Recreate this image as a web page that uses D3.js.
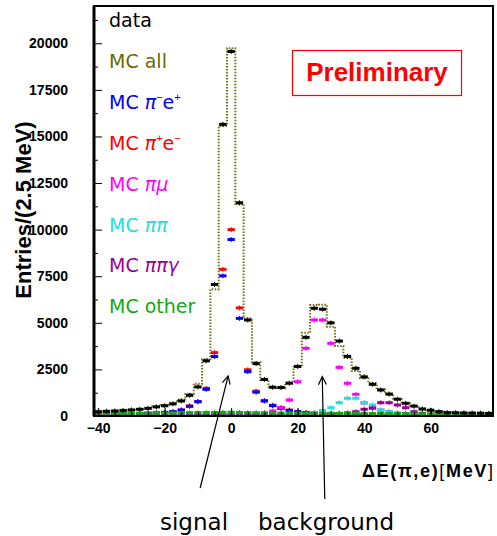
<!DOCTYPE html>
<html>
<head>
<meta charset="utf-8">
<script src="https://cdn.jsdelivr.net/npm/d3@7"></script>
<style>
  body { margin: 0; background: #fff; }
  svg { display: block; }
</style>
</head>
<body>
<div id="wrapper"></div>
<script>
// bin centres, MeV (bins of 2.5 MeV)
const binCenters = [-40, -37.5, -35, -32.5, -30, -27.5, -25, -22.5, -20, -17.5, -15, -12.5,
  -10, -7.5, -5, -2.5, 0, 2.5, 5, 7.5, 10, 12.5, 15, 17.5, 20, 22.5, 25, 27.5, 30, 32.5,
  35, 37.5, 40, 42.5, 45, 47.5, 50, 52.5, 55, 57.5, 60, 62.5, 65, 67.5, 70, 72.5, 75, 77.5];

const dataCounts = [230, 250, 270, 300, 325, 360, 410, 490, 550, 650, 805, 1110,
  1560, 2960, 7060, 15650, 19560, 11440, 5150, 2810, 1960, 1540, 1530, 1760, 2660, 4220, 5780, 5730, 5000, 4020,
  3200, 2560, 2100, 1700, 1395, 1175, 900, 680, 530, 375, 310, 230, 180, 175, 165, 160, 150, 140];

const mcAll = [240, 260, 280, 305, 335, 375, 425, 505, 585, 705, 880, 1180,
  1730, 3050, 6800, 15560, 19730, 11380, 5240, 2880, 1930, 1570, 1490, 1780, 2640, 4470, 5950, 5970, 4790, 3760,
  3130, 2420, 2030, 1770, 1430, 1200, 930, 700, 545, 400, 315, 245, 195, 180, 172, 165, 158, 150];

const mcPiMinusEPlus = [105, 110, 115, 120, 125, 135, 145, 160, 195, 230, 320, 520,
  767, 1430, 3190, 7520, 9470, 5240, 2380, 1280, 805, 553, 413, 300, 230, 185, 150, 130, 110, 95,
  85, 75, 65, 55, 50, 45, 40, 35, 30, 28, 25, 22, 20, 18, 16, 15, 14, 12];

const mcPiPlusEMinus = [104, 109, 114, 119, 124, 134, 144, 159, 194, 229, 319, 540,
  775, 1485, 3400, 7870, 10000, 5800, 2480, 1330, 820, 575, 425, 315, 229, 184, 149, 129, 109, 94,
  84, 74, 64, 54, 49, 44, 39, 34, 29, 27, 24, 21, 19, 17, 15, 14, 13, 11];

const mcPiMu = [15, 15, 18, 18, 20, 20, 22, 25, 28, 30, 35, 40,
  45, 55, 60, 70, 80, 90, 100, 120, 160, 268, 460, 858, 1840, 3630, 5150, 5150, 3900, 2610,
  1755, 1164, 700, 445, 320, 230, 160, 130, 90, 70, 55, 40, 30, 25, 20, 18, 15, 12];

const mcPiPi = [30, 30, 30, 30, 30, 30, 30, 30, 30, 30, 30, 30,
  30, 30, 35, 35, 35, 35, 40, 40, 45, 50, 60, 70, 90, 120, 180, 300, 445, 714,
  950, 950, 714, 590, 322, 230, 150, 100, 70, 50, 40, 30, 25, 20, 18, 15, 12, 10];

const mcPiPiGamma = [20, 20, 20, 20, 20, 20, 20, 20, 20, 20, 20, 20,
  20, 20, 20, 20, 20, 20, 20, 25, 25, 30, 35, 40, 45, 55, 65, 80, 100, 130,
  170, 230, 360, 420, 714, 714, 590, 445, 230, 143, 90, 60, 40, 30, 25, 20, 15, 12];

const mcOther = [150, 148, 155, 150, 152, 150, 158, 160, 162, 165, 170, 178,
  182, 185, 190, 196, 200, 190, 182, 175, 170, 166, 160, 158, 155, 152, 150, 150, 148, 145,
  145, 142, 140, 136, 135, 130, 128, 125, 124, 120, 118, 115, 114, 110, 108, 105, 104, 100];

const xTickValues = [-40, -20, 0, 20, 40, 60];
const xMinorTicks = [-40, -35, -30, -25, -20, -15, -10, -5, 0, 5, 10, 15, 20, 25, 30, 35, 40, 45, 50, 55, 60, 65, 70, 75];
const yTickValues = [0, 2500, 5000, 7500, 10000, 12500, 15000, 17500, 20000];
const yMinorTicks = [1250, 3750, 6250, 8750, 11250, 13750, 16250, 18750, 21250];

const legendItems = [
  {label: "data", color: "#000000"},
  {label: "MC all", color: "#6b6b00"},
  {label: "MC π-e+", color: "#0000ff"},
  {label: "MC π+e-", color: "#ff0000"},
  {label: "MC πμ", color: "#ff00ff"},
  {label: "MC ππ", color: "#22e0e0"},
  {label: "MC ππγ", color: "#990099"},
  {label: "MC other", color: "#11aa11"},
];

const binHalf = 1.25;

let dimensions = {
  width: 497,
  height: 536,
  margin: { top: 6, right: 4, bottom: 120, left: 94 },
};
dimensions.boundedWidth = dimensions.width - dimensions.margin.left - dimensions.margin.right;
dimensions.boundedHeight = dimensions.height - dimensions.margin.top - dimensions.margin.bottom;

const wrapper = d3.select("#wrapper")
  .append("svg")
  .attr("width", dimensions.width)
  .attr("height", dimensions.height);

const xScale = d3.scaleLinear()
  .domain([-41.25, 78.75])
  .range([dimensions.margin.left, dimensions.margin.left + dimensions.boundedWidth]);
const yScale = d3.scaleLinear()
  .domain([0, 22000])
  .range([dimensions.margin.top + dimensions.boundedHeight, dimensions.margin.top]);

const defs = wrapper.append("defs");
defs.append("clipPath").attr("id", "clip")
  .append("rect")
  .attr("x", dimensions.margin.left)
  .attr("y", dimensions.margin.top)
  .attr("width", dimensions.boundedWidth)
  .attr("height", dimensions.boundedHeight);

const plot = wrapper.append("g").attr("clip-path", "url(#clip)");

// MC all: dotted histogram outline
const stepPoints = [];
binCenters.forEach((c, i) => {
  stepPoints.push([c - binHalf, mcAll[i]]);
  stepPoints.push([c + binHalf, mcAll[i]]);
});
const stepLine = d3.line()
  .x(d => xScale(d[0]))
  .y(d => yScale(d[1]));
plot.append("path")
  .attr("d", stepLine(stepPoints))
  .attr("fill", "none")
  .attr("stroke", "#707018")
  .attr("stroke-width", 2)
  .attr("stroke-dasharray", "1.5,1.5");

function drawMarkers(values, color, thick) {
  const g = plot.append("g");
  g.selectAll("line.h").data(values).join("line")
    .attr("class", "h")
    .attr("x1", (d, i) => xScale(binCenters[i] - binHalf) + 0.5)
    .attr("x2", (d, i) => xScale(binCenters[i] + binHalf) - 0.5)
    .attr("y1", d => yScale(d))
    .attr("y2", d => yScale(d))
    .attr("stroke", color)
    .attr("stroke-width", thick);
  g.selectAll("line.v").data(values).join("line")
    .attr("class", "v")
    .attr("x1", (d, i) => xScale(binCenters[i]))
    .attr("x2", (d, i) => xScale(binCenters[i]))
    .attr("y1", d => Math.min(yScale(d) - 2.5, yScale(d + Math.sqrt(d))))
    .attr("y2", d => Math.max(yScale(d) + 2.5, yScale(d - Math.sqrt(d))))
    .attr("stroke", color)
    .attr("stroke-width", 1);
}

drawMarkers(mcPiPlusEMinus, "#ff0000", 3);
drawMarkers(mcPiMinusEPlus, "#0000ff", 3);
drawMarkers(mcPiMu, "#ff00ff", 3);
drawMarkers(mcPiPi, "#22e0e0", 3);
drawMarkers(mcPiPiGamma, "#990099", 3);
drawMarkers(mcOther, "#11aa11", 3);
drawMarkers(dataCounts, "#000000", 3);

// axes (ticks pointing inside)
const fontBold = "'Liberation Sans', Arial, Helvetica, sans-serif";

const yAxis = wrapper.append("g")
  .attr("transform", `translate(${dimensions.margin.left},0)`)
  .call(d3.axisLeft(yScale).tickValues(yTickValues).tickSize(-8).tickPadding(26).tickFormat(d3.format("d")));
wrapper.append("g")
  .attr("transform", `translate(${dimensions.margin.left},0)`)
  .call(d3.axisLeft(yScale).tickValues(yMinorTicks).tickSize(-4).tickFormat(""));

const xBase = yScale(0);
const xAxis = wrapper.append("g")
  .attr("transform", `translate(0,${xBase})`)
  .call(d3.axisBottom(xScale).tickValues(xTickValues).tickSize(-8).tickPadding(7).tickFormat(d3.format("d")));
wrapper.append("g")
  .attr("transform", `translate(0,${xBase})`)
  .call(d3.axisBottom(xScale).tickValues(xMinorTicks).tickSize(-4).tickFormat(""));

wrapper.selectAll(".domain").remove();
wrapper.selectAll(".tick line").attr("stroke", "#000").attr("stroke-width", 1);
wrapper.selectAll(".tick text")
  .attr("font-family", fontBold)
  .attr("font-weight", "bold")
  .attr("font-size", 14)
  .attr("fill", "#000");

// frame
wrapper.append("rect")
  .attr("x", dimensions.margin.left)
  .attr("y", dimensions.margin.top)
  .attr("width", dimensions.boundedWidth)
  .attr("height", dimensions.boundedHeight)
  .attr("fill", "none")
  .attr("stroke", "#000")
  .attr("stroke-width", 2);
wrapper.append("line")
  .attr("x1", dimensions.margin.left).attr("x2", dimensions.margin.left)
  .attr("y1", dimensions.margin.top).attr("y2", xBase)
  .attr("stroke", "#000").attr("stroke-width", 3);

// axis titles
wrapper.append("text")
  .attr("transform", "rotate(-90)")
  .attr("x", -210)
  .attr("y", 31)
  .attr("text-anchor", "middle")
  .attr("font-family", fontBold)
  .attr("font-weight", "bold")
  .attr("font-size", 22)
  .text("Entries/(2.5 MeV)");

const xTitle = wrapper.append("text")
  .attr("x", 362)
  .attr("y", 477)
  .attr("font-family", fontBold)
  .attr("font-size", 18)
  .attr("textLength", 131)
  .attr("lengthAdjust", "spacing");
xTitle.append("tspan").attr("font-weight", "bold").text("ΔE(π,e)");
xTitle.append("tspan").attr("font-weight", "normal").text("[");
xTitle.append("tspan").attr("font-weight", "bold").text("MeV");
xTitle.append("tspan").attr("font-weight", "normal").text("]");

// legend
const legendFont = "'DejaVu Sans', sans-serif";
const legend = wrapper.append("g");
legendItems.forEach((item, i) => {
  const t = legend.append("text")
    .attr("x", 109)
    .attr("y", 27 + i * 40.9)
    .attr("font-family", legendFont)
    .attr("font-size", 19)
    .attr("fill", item.color);
  const m = item.label.match(/^MC (.*)$/);
  if (!m) { t.text(item.label); return; }
  t.append("tspan").text("MC ");
  const rest = m[1];
  if (rest === "π-e+" || rest === "π+e-") {
    t.append("tspan").attr("font-style", "italic").text("π");
    t.append("tspan").attr("font-size", 11).attr("dy", -8).attr("font-family", fontBold).text(rest[1] === "-" ? "−" : "+");
    t.append("tspan").attr("dy", 8).text("e");
    t.append("tspan").attr("font-size", 11).attr("dy", -8).attr("font-family", fontBold).text(rest[3] === "-" ? "−" : "+");
  } else if (rest === "other" || rest === "all") {
    t.append("tspan").text(rest);
  } else {
    t.append("tspan").attr("font-style", "italic").text(rest);
  }
});

// Preliminary box
wrapper.append("rect")
  .attr("x", 292.5).attr("y", 50.5)
  .attr("width", 169).attr("height", 45)
  .attr("fill", "#fff")
  .attr("stroke", "#ff0000")
  .attr("stroke-width", 1.2);
wrapper.append("text")
  .attr("x", 377).attr("y", 81)
  .attr("text-anchor", "middle")
  .attr("font-family", fontBold)
  .attr("font-weight", "bold")
  .attr("font-size", 26)
  .attr("fill", "#ff0000")
  .text("Preliminary");

// annotation arrows
function arrow(tip, tail) {
  const dx = tip[0] - tail[0], dy = tip[1] - tail[1];
  const len = Math.hypot(dx, dy);
  const ux = dx / len, uy = dy / len;
  const nx = -uy, ny = ux;
  const g = wrapper.append("g").attr("stroke", "#000").attr("stroke-width", 1.2).attr("fill", "none");
  g.append("line").attr("x1", tail[0]).attr("y1", tail[1]).attr("x2", tip[0]).attr("y2", tip[1]);
  g.append("path").attr("d",
    `M${tip[0] - 8 * ux + 4 * nx},${tip[1] - 8 * uy + 4 * ny}L${tip[0]},${tip[1]}L${tip[0] - 8 * ux - 4 * nx},${tip[1] - 8 * uy - 4 * ny}`);
}
const signalTip = [xScale(-0.9), yScale(2150)];
arrow(signalTip, [signalTip[0] - 28, 488]);
const bgTip = [xScale(27.4), yScale(2110)];
arrow(bgTip, [bgTip[0] + 2.5, 499]);

wrapper.append("text")
  .attr("x", 160).attr("y", 530)
  .attr("font-family", legendFont)
  .attr("font-size", 23)
  .text("signal");
wrapper.append("text")
  .attr("x", 258).attr("y", 530)
  .attr("font-family", legendFont)
  .attr("font-size", 23)
  .text("background");
</script>
</body>
</html>
